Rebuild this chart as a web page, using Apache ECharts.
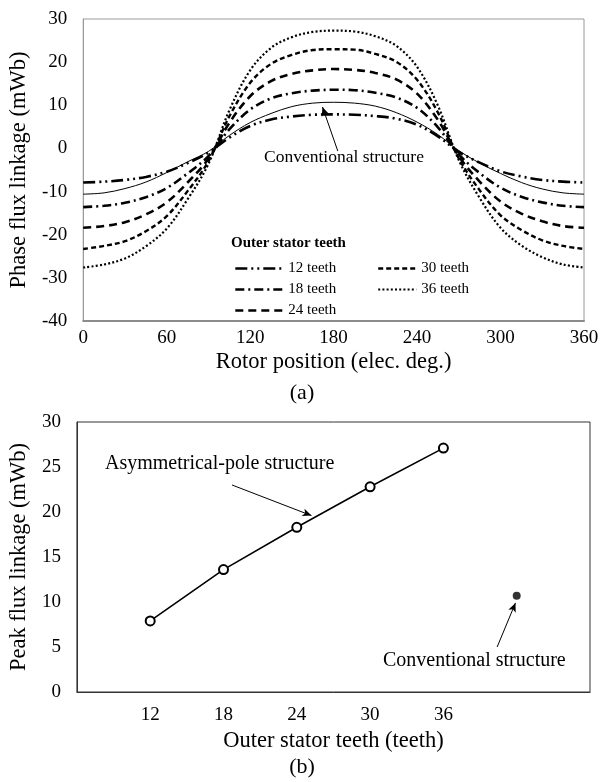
<!DOCTYPE html>
<html>
<head>
<meta charset="utf-8">
<script src="https://cdn.jsdelivr.net/npm/echarts@6/dist/echarts.min.js"></script>
<style>
html,body{margin:0;padding:0;background:#fff;}
#c{width:604px;height:782px;}
</style>
</head>
<body>
<div id="c"></div>
<script>
// ---------- (a) phase flux linkage vs rotor position ----------
const rotorPos = [0,15,30,45,60,75,90,105,120,135,150,165,180,195,210,225,240,255,270,285,300,315,330,345,360];
const flux12 = [-7.9,-7.7,-7.3,-6.6,-5.4,-3.4,-1.0,2.5,5.2,6.7,7.4,7.8,7.9,7.8,7.5,6.9,5.5,2.8,-0.8,-3.3,-5.3,-6.5,-7.3,-7.7,-7.9];
const flux18 = [-13.6,-13.3,-12.6,-11.3,-9.2,-5.8,-1.8,4.4,9.0,11.6,12.8,13.4,13.6,13.5,12.9,11.8,9.4,4.9,-1.4,-5.7,-9.1,-11.2,-12.5,-13.3,-13.6];
const flux24 = [-18.4,-18.0,-17.1,-15.3,-12.5,-7.9,-2.4,5.9,12.1,15.6,17.3,18.1,18.4,18.2,17.5,16.0,12.7,6.6,-1.8,-7.7,-12.3,-15.1,-16.9,-18.0,-18.4];
const flux30 = [-23.3,-22.6,-21.5,-19.2,-15.7,-9.9,-3.0,7.4,15.2,19.6,21.7,22.8,23.0,22.9,21.9,20.1,15.9,8.3,-2.3,-9.7,-15.5,-18.9,-21.3,-22.6,-23.3];
const flux36 = [-27.6,-26.9,-25.5,-22.7,-18.6,-11.8,-3.6,8.8,18.1,23.3,25.8,27.0,27.3,27.1,26.0,23.8,18.9,9.9,-2.7,-11.5,-18.4,-22.5,-25.2,-26.9,-27.6];
const fluxConv = [-10.6,-10.3,-9.3,-7.8,-5.6,-3.1,-0.7,3.0,6.0,8.1,9.7,10.5,10.7,10.5,9.8,8.3,6.1,3.2,-0.5,-3.4,-5.8,-7.9,-9.4,-10.3,-10.6];
const seriesNamesA = ['12 teeth','18 teeth','24 teeth','30 teeth','36 teeth'];
const xTicksA = [0,60,120,180,240,300,360];
const yTicksA = [-40,-30,-20,-10,0,10,20,30];

// ---------- (b) peak flux linkage vs outer stator teeth ----------
const teeth = [12,18,24,30,36];
const peakFlux = [7.9,13.6,18.3,22.8,27.1];
const convTeethPos = 42;
const convPeak = 10.7;
const xTicksB = [12,18,24,30,36];

const FONT = '"Liberation Serif","Times New Roman",serif';
const pair = (xs, ys) => xs.map((x,i)=>[x, ys[i]]);

const dashStyles = [
  [12,4,2,4,2,4],
  [9,4,2,4],
  [8,5],
  [5,3],
  [2,2.2]
];
const widths = [2.6,2.6,2.6,2.4,2.2];
const fluxSets = [flux12, flux18, flux24, flux30, flux36];

const chart = echarts.init(document.getElementById('c'), null, {renderer:'canvas'});

const seriesA = fluxSets.map((d,i)=>({
  name: seriesNamesA[i],
  type:'line', xAxisIndex:0, yAxisIndex:0,
  data: pair(rotorPos, d),
  smooth: 0.35, symbol:'none', silent:true,
  itemStyle:{color:'#000'},
  lineStyle:{color:'#000', width:widths[i], type:dashStyles[i], cap:'butt'},
  z: 3
}));
seriesA.push({
  name:'Conventional structure',
  type:'line', xAxisIndex:0, yAxisIndex:0,
  data: pair(rotorPos, fluxConv),
  smooth:0.35, symbol:'none', silent:true,
  itemStyle:{color:'#000'},
  lineStyle:{color:'#000', width:1},
  markLine:{
    silent:true, symbol:['none','arrow'], symbolSize:[6,9],
    lineStyle:{color:'#000', width:1, type:'solid'},
    label:{show:false},
    data:[[{coord:[183,-0.6]},{coord:[172,9.6]}]]
  },
  z: 2
});

const seriesB = [{
  name:'Asymmetrical-pole structure',
  type:'line', xAxisIndex:1, yAxisIndex:1,
  data: pair(teeth, peakFlux),
  symbol:'emptyCircle', symbolSize:9, silent:true,
  lineStyle:{color:'#000', width:1.6},
  itemStyle:{color:'#000', borderColor:'#000', borderWidth:1},
  markLine:{
    silent:true, symbol:['none','arrow'], symbolSize:[6,9],
    lineStyle:{color:'#000', width:1, type:'solid'},
    label:{show:false},
    data:[
      [{coord:[18.7,23.0]},{coord:[25.2,19.6]}],
      [{coord:[40.4,5.0]},{coord:[41.9,9.9]}]
    ]
  }
},{
  name:'Conventional',
  type:'scatter', xAxisIndex:1, yAxisIndex:1,
  data:[[convTeethPos, convPeak]],
  symbol:'circle', symbolSize:8, silent:true,
  itemStyle:{color:'#000'}
}];

const legendCommon = {
  orient:'vertical', itemHeight:12, itemGap:6,
  textStyle:{fontFamily:FONT, fontSize:15, color:'#000'},
  selectedMode:false,
  itemStyle:{opacity:0},
  lineStyle:{width:'inherit', type:'inherit', color:'#000', opacity:1}
};

chart.setOption({
  animation:false,
  color:['#000'],
  backgroundColor:'#fff',
  textStyle:{fontFamily:FONT},
  grid:[
    {left:69, right:20, top:19, height:302, show:true, borderColor:'#9a9a9a', borderWidth:1, backgroundColor:'transparent'},
    {left:71, right:14, top:422, height:270, show:true, borderColor:'#333', borderWidth:1, backgroundColor:'transparent'}
  ],
  xAxis:[
    {type:'value', gridIndex:0, min:0, max:360, interval:60,
     axisLine:{show:true, onZero:false, lineStyle:{color:'#8c8c8c', width:2}},
     axisTick:{show:false}, splitLine:{show:false},
     axisLabel:{color:'#000', fontSize:19, fontFamily:FONT, margin:8,
       formatter:v=> xTicksA.includes(v)? String(v):''},
     name:'Rotor position (elec. deg.)', nameLocation:'middle', nameGap:30,
     nameTextStyle:{color:'#000', fontSize:22.5, fontFamily:FONT}},
    {type:'value', gridIndex:1, min:6, max:48, interval:6,
     axisLine:{show:true, onZero:false, lineStyle:{color:'#333', width:1}},
     axisTick:{show:false}, splitLine:{show:false},
     axisLabel:{color:'#000', fontSize:19, fontFamily:FONT, margin:14,
       formatter:v=> xTicksB.includes(v)? String(v):''},
     name:'Outer stator teeth (teeth)', nameLocation:'middle', nameGap:38,
     nameTextStyle:{color:'#000', fontSize:22.5, fontFamily:FONT}}
  ],
  yAxis:[
    {type:'value', gridIndex:0, min:-40, max:30, interval:10,
     axisLine:{show:true, onZero:false, lineStyle:{color:'#9a9a9a', width:1}},
     axisTick:{show:false}, splitLine:{show:false},
     axisLabel:{color:'#000', fontSize:19, fontFamily:FONT, margin:16,
       formatter:v=> yTicksA.includes(v)? String(v):''},
     name:'Phase flux linkage (mWb)', nameLocation:'middle', nameGap:40,
     nameTextStyle:{color:'#000', fontSize:22.5, fontFamily:FONT}},
    {type:'value', gridIndex:1, min:0, max:30, interval:5,
     axisLine:{show:true, onZero:false, lineStyle:{color:'#333', width:1}},
     axisTick:{show:false}, splitLine:{show:false},
     axisLabel:{color:'#000', fontSize:19, fontFamily:FONT, margin:16},
     name:'Peak flux linkage (mWb)', nameLocation:'middle', nameGap:41,
     nameTextStyle:{color:'#000', fontSize:22.5, fontFamily:FONT}}
  ],
  legend:[
    Object.assign({}, legendCommon, {data:seriesNamesA.slice(0,3), left:229, top:256, itemWidth:48}),
    Object.assign({}, legendCommon, {data:seriesNamesA.slice(3), left:372, top:256, itemWidth:38})
  ],
  graphic:[
    {type:'text', left:231, top:236, style:{text:'Outer stator teeth', font:'bold 15px '+FONT, fill:'#000'}},
    {type:'text', left:264, top:148, style:{text:'Conventional structure', font:'17.5px '+FONT, fill:'#000'}},
    {type:'text', left:'center', top:382, style:{text:'(a)', font:'22px '+FONT, fill:'#000'}},
    {type:'text', left:105, top:454, style:{text:'Asymmetrical-pole structure', font:'20px '+FONT, fill:'#000'}},
    {type:'text', left:383, top:651, style:{text:'Conventional structure', font:'20px '+FONT, fill:'#000'}},
    {type:'text', left:'center', top:756, style:{text:'(b)', font:'22px '+FONT, fill:'#000'}}
  ],
  series: seriesA.concat(seriesB)
});
</script>
</body>
</html>
